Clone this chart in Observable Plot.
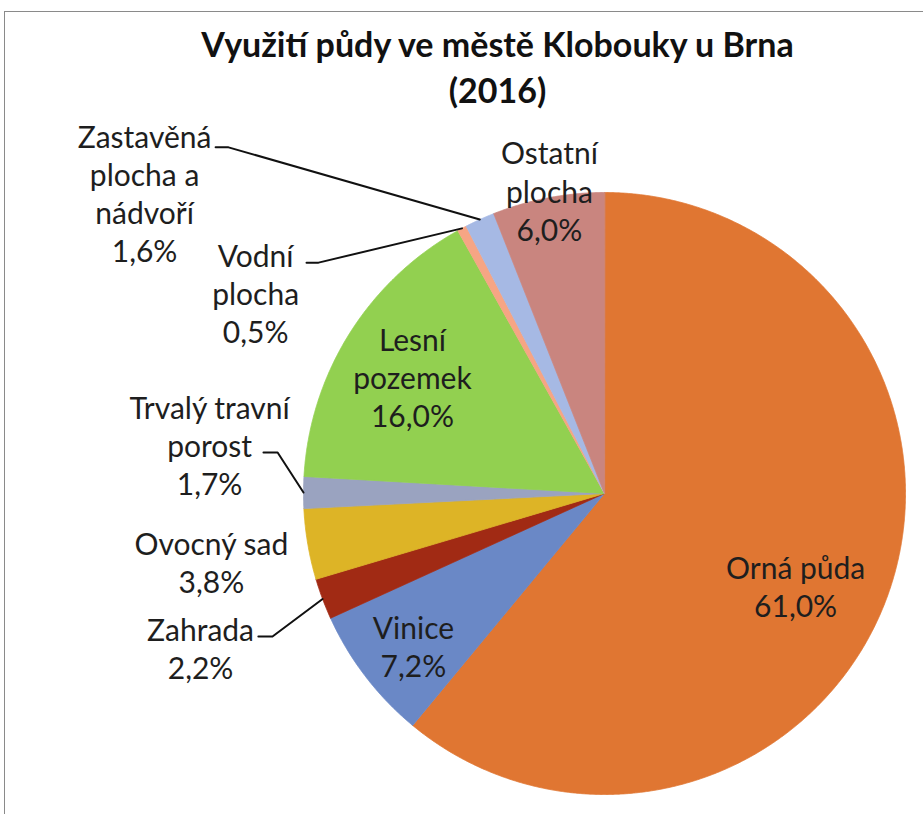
<!DOCTYPE html>
<html>
<head>
<meta charset="utf-8">
<script src="https://cdn.jsdelivr.net/npm/d3@7"></script>
<script src="https://cdn.jsdelivr.net/npm/@observablehq/plot@0.6"></script>
<style>
  html, body { margin: 0; padding: 0; background: #fff; }
  #wrap { position: relative; width: 923px; height: 814px; overflow: hidden; font-family: Lato, "Open Sans", sans-serif; }
  #frame { position: absolute; left: 4px; top: 11px; width: 1000px; height: 1000px; border: 1.5px solid #8a8a8a; box-sizing: border-box; }
  #title { position: relative; height: 120px; width: 995px; text-align: center; font-weight: bold; font-size: 34px; line-height: 46px; padding-top: 21px; box-sizing: border-box; color: #111; }
  #chart { position: relative; }
</style>
</head>
<body>
<div id="wrap">
  <div id="frame"></div>
  <div id="title">Využití půdy ve městě Klobouky u Brna<br>(2016)</div>
  <div id="chart"></div>
</div>
<script>
// ---- data ----
const categories = ["Orná půda", "Vinice", "Zahrada", "Ovocný sad", "Trvalý travní porost", "Lesní pozemek", "Vodní plocha", "Zastavěná plocha a nádvoří", "Ostatní plocha"];
const values = [61.0, 7.2, 2.2, 3.8, 1.7, 16.0, 0.5, 1.6, 6.0];
const colors = ["#E07632", "#6A88C6", "#A12A14", "#DDB426", "#9AA3C0", "#92D050", "#F6A584", "#A6B9E4", "#C9857F"];

// ---- layout (label placement in pie-radius units) ----
const labelLayout = [
  {name: "Orná půda", text: "Orná půda", x: 0.635, y: -0.306},
  {name: "Vinice", text: "Vinice", x: -0.635, y: -0.505},
  {name: "Zahrada", text: "Zahrada", x: -1.342, y: -0.512},
  {name: "Ovocný sad", text: "Ovocný sad", x: -1.306, y: -0.226},
  {name: "Trvalý travní porost", text: "Trvalý travní\nporost", x: -1.312, y: 0.163},
  {name: "Lesní pozemek", text: "Lesní\npozemek", x: -0.638, y: 0.389},
  {name: "Vodní plocha", text: "Vodní\nplocha", x: -1.159, y: 0.668},
  {name: "Zastavěná plocha a nádvoří", text: "Zastavěná\nplocha a\nnádvoří", x: -1.528, y: 0.998},
  {name: "Ostatní plocha", text: "Ostatní\nplocha", x: -0.183, y: 1.007}
];
const leaderLayout = [
  {name: "Zastavěná plocha a nádvoří", sx: -1.292, sy: 1.150, ex: -1.249, ey: 1.150},
  {name: "Vodní plocha", sx: -0.990, sy: 0.767, ex: -0.950, ey: 0.767},
  {name: "Trvalý travní porost", sx: -1.133, sy: 0.136, ex: -1.086, ey: 0.136},
  {name: "Zahrada", sx: -1.150, sy: -0.475, ex: -1.103, ey: -0.475}
];

// ---- geometry derived from data ----
const total = d3.sum(values);
let acc = 0;
const slices = categories.map((name, i) => {
  const a0 = acc / total * 2 * Math.PI;
  acc += values[i];
  const a1 = acc / total * 2 * Math.PI;
  return {name, value: values[i], a0, a1, mid: (a0 + a1) / 2};
});
const sliceByName = new Map(slices.map(s => [s.name, s]));
const slicePts = slices.flatMap(s => {
  const pts = [{name: s.name, x: 0, y: 0}];
  const n = Math.max(2, Math.ceil((s.a1 - s.a0) / 0.004));
  for (let k = 0; k <= n; k++) {
    const a = s.a0 + (s.a1 - s.a0) * k / n;
    pts.push({name: s.name, x: Math.sin(a), y: Math.cos(a)});
  }
  return pts;
});
const fmt = v => v.toFixed(1).replace(".", ",") + "%";
const labels = labelLayout.map(l => ({...l, label: l.text + "\n" + fmt(sliceByName.get(l.name).value)}));
const leaderPts = leaderLayout.flatMap(l => {
  const s = sliceByName.get(l.name);
  return [
    {name: l.name, x: l.sx, y: l.sy},
    {name: l.name, x: l.ex, y: l.ey},
    {name: l.name, x: Math.sin(s.mid), y: Math.cos(s.mid)}
  ];
});

const chart = Plot.plot({
  width: 923,
  height: 694,
  margin: 0,
  style: {background: "transparent", overflow: "visible"},
  x: {domain: [-1, 1], range: [303, 905], axis: null},
  y: {domain: [-1, 1], range: [674, 72], axis: null},
  color: {domain: categories, range: colors},
  marks: [
    Plot.line(slicePts, {x: "x", y: "y", z: "name", fill: "name", stroke: "name", strokeWidth: 0.8, curve: "linear-closed"}),
    Plot.line(leaderPts, {x: "x", y: "y", z: "name", stroke: "#111", strokeWidth: 2}),
    Plot.text(labels, {x: "x", y: "y", text: "label", fontSize: 30, lineHeight: 1.27, fill: "#1e1e1e", fontFamily: "Lato, 'Open Sans', sans-serif"})
  ]
});
document.getElementById("chart").appendChild(chart);
</script>
</body>
</html>
